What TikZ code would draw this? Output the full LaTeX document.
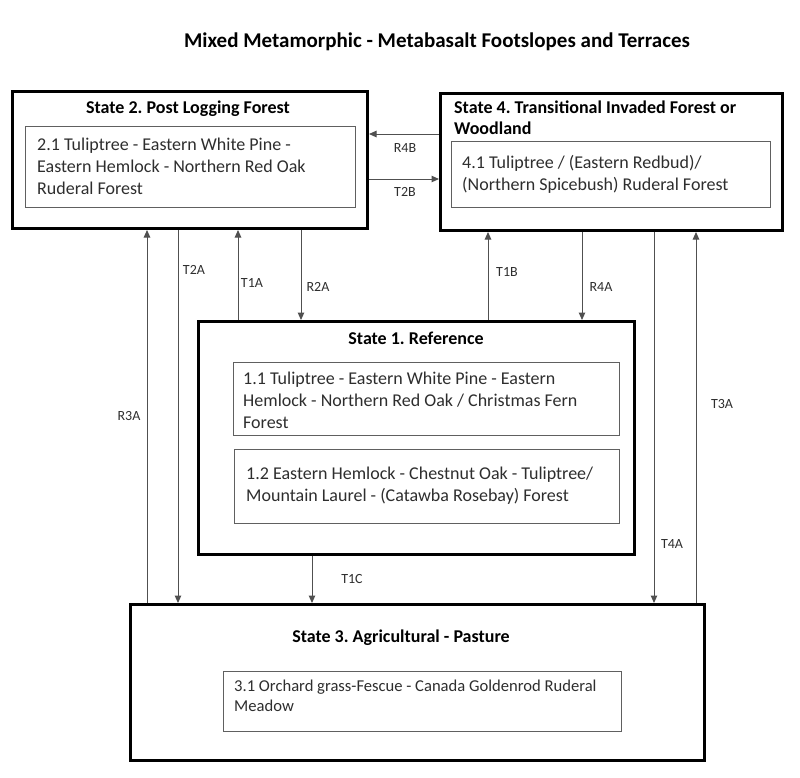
\documentclass[tikz,border=0pt]{standalone}
\usepackage{fontspec}
\setmainfont{Carlito}
\usetikzlibrary{arrows.meta}
\definecolor{txt}{HTML}{2E2E2E}
\definecolor{ln}{HTML}{505050}
\definecolor{sub}{HTML}{606060}
\frenchspacing
\begin{document}
\begin{tikzpicture}[x=1pt,y=-1pt,
  statebox/.style={draw=black, line width=3pt, rectangle, anchor=north west, inner sep=0pt},
  subbox/.style={draw=sub, line width=1.2pt, rectangle, anchor=north west, inner sep=0pt},
  titletext/.style={font=\bfseries\fontsize{18pt}{21pt}\selectfont, text=black, inner sep=0pt},
  body/.style={font=\fontsize{18pt}{22pt}\selectfont, text=txt, align=left, anchor=west, inner sep=0pt},
  lab/.style={font=\fontsize{14pt}{16pt}\selectfont, text=txt, inner sep=0pt},
  arr/.style={draw=ln, line width=1pt, -{Triangle[length=7.5pt,width=6.5pt]}}
]
\useasboundingbox[fill=white] (0,0) rectangle (800,777);

% main title
\node[font=\bfseries\fontsize{21pt}{25pt}\selectfont, inner sep=0pt] (maintitle) at (437,42) {Mixed Metamorphic - Metabasalt Footslopes and Terraces};

% state boxes
\node[statebox, minimum width=355pt, minimum height=137pt] (s2) at (11,90) {};
\node[statebox, minimum width=342pt, minimum height=137pt] (s4) at (439,92) {};
\node[statebox, minimum width=436pt, minimum height=233pt] (s1) at (197,320) {};
\node[statebox, minimum width=574pt, minimum height=156pt] (s3) at (129,603) {};

% titles
\node[titletext] (s2title) at (188,109) {State 2. Post Logging Forest};
\node[titletext, align=left, anchor=west] (s4title) at (454,117.5) {State 4. Transitional Invaded Forest or\\Woodland};
\node[titletext] (s1title) at (416,338) {State 1. Reference};
\node[titletext] (s3title) at (401,638) {State 3. Agricultural - Pasture};

% community boxes
\node[subbox, minimum width=330pt, minimum height=81pt] (b21) at (25,126) {};
\node[subbox, minimum width=319pt, minimum height=66pt] (b41) at (451,141) {};
\node[subbox, minimum width=386pt, minimum height=73pt] (b11) at (233,362) {};
\node[subbox, minimum width=385pt, minimum height=74pt] (b12) at (234,449) {};
\node[subbox, minimum width=398pt, minimum height=60pt] (b31) at (223,671) {};

% community texts
\node[body] (t21) at (37,166) {2.1 Tuliptree - Eastern White Pine -\\Eastern Hemlock - Northern Red Oak\\Ruderal Forest};
\node[body] (t41) at (462,174.5) {4.1 Tuliptree / (Eastern Redbud)/\\(Northern Spicebush) Ruderal Forest};
\node[body] (t11) at (243,400.5) {1.1 Tuliptree - Eastern White Pine - Eastern\\Hemlock - Northern Red Oak / Christmas Fern\\Forest};
\node[body] (t12) at (246,486) {1.2 Eastern Hemlock - Chestnut Oak - Tuliptree/\\Mountain Laurel - (Catawba Rosebay) Forest};
\node[body, font=\fontsize{16.6pt}{20pt}\selectfont] (t31) at (234,696) {3.1 Orchard grass-Fescue - Canada Goldenrod Ruderal\\Meadow};

% column / row guides for connectors
\coordinate (xR3A) at (147,0);
\coordinate (xT2A) at (178,0);
\coordinate (xT1A) at (238,0);
\coordinate (xR2A) at (301,0);
\coordinate (xT1C) at (312,0);
\coordinate (xT1B) at (488,0);
\coordinate (xR4A) at (582,0);
\coordinate (xT4A) at (654,0);
\coordinate (xT3A) at (696,0);
\coordinate (yR4B) at (0,134);
\coordinate (yT2B) at (0,179);

% connectors
\draw[arr] (s3.north -| xR3A) -- (s2.south -| xR3A);
\draw[arr] (s2.south -| xT2A) -- (s3.north -| xT2A);
\draw[arr] (s1.north -| xT1A) -- (s2.south -| xT1A);
\draw[arr] (s2.south -| xR2A) -- (s1.north -| xR2A);
\draw[arr] (s1.north -| xT1B) -- (s4.south -| xT1B);
\draw[arr] (s4.south -| xR4A) -- (s1.north -| xR4A);
\draw[arr] (s4.south -| xT4A) -- (s3.north -| xT4A);
\draw[arr] (s3.north -| xT3A) -- (s4.south -| xT3A);
\draw[arr] (s1.south -| xT1C) -- (s3.north -| xT1C);
\draw[arr] (s4.west |- yR4B) -- (s2.east |- yR4B);
\draw[arr] (s2.east |- yT2B) -- (s4.west |- yT2B);

% connector labels
\node[lab] (lR4B) at (405,148) {R4B};
\node[lab] (lT2B) at (405,192) {T2B};
\node[lab] (lT2A) at (194,270) {T2A};
\node[lab] (lT1A) at (252,283) {T1A};
\node[lab] (lR2A) at (318,287) {R2A};
\node[lab] (lT1B) at (507,272) {T1B};
\node[lab] (lR4A) at (601,287) {R4A};
\node[lab] (lR3A) at (129,416) {R3A};
\node[lab] (lT3A) at (722,404) {T3A};
\node[lab] (lT4A) at (672,544) {T4A};
\node[lab] (lT1C) at (352,579) {T1C};
\end{tikzpicture}
\end{document}
